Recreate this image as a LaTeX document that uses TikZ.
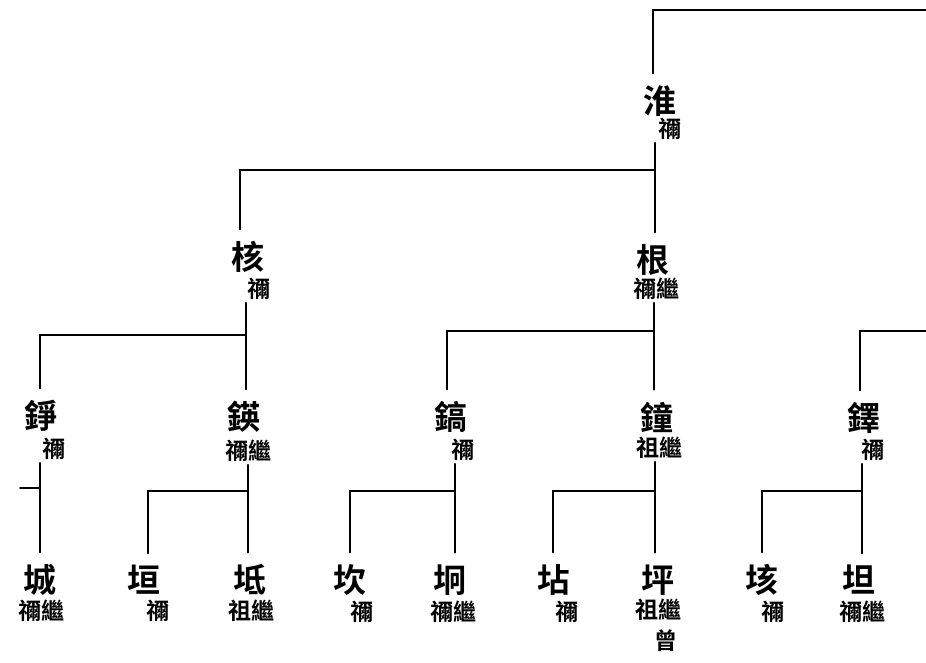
\documentclass[tikz,border=0pt]{standalone}
\usepackage{fontspec}
\newfontfamily\cjk{Noto Sans CJK TC}[BoldFont={Noto Sans CJK TC Bold}]
\tikzset{
  big/.style={font=\cjk\bfseries\fontsize{33}{33}\selectfont, inner sep=0pt, outer ysep=12pt},
  lab/.style={font=\cjk\bfseries\fontsize{23}{23}\selectfont, inner sep=0pt, outer ysep=3pt},
  link/.style={line width=1.7pt, line cap=round}
}
\begin{document}
\begin{tikzpicture}[x=1pt,y=-1pt]
\useasboundingbox (0,0) rectangle (926,662);
% level 0
\node[big] (huai) at (660,101) {淮};
\node[lab] (huaiL) at (670,129) {禰};
% level 1
\node[big] (he) at (248,257) {核};
\node[lab] (heL) at (259,289) {禰};
\node[big] (gen) at (653,260) {根};
\node[lab] (genL) at (656,289) {禰繼};
% level 2
\node[big] (zheng) at (41,416) {錚};
\node[lab] (zhengL) at (54,449) {禰};
\node[big] (ying) at (244,417) {鍈};
\node[lab] (yingL) at (248,451) {禰繼};
\node[big] (gao) at (451,417) {鎬};
\node[lab] (gaoL) at (463,450) {禰};
\node[big] (zhong) at (657,417) {鐘};
\node[lab] (zhongL) at (659,448) {祖繼};
\node[big] (duo) at (864,418) {鐸};
\node[lab] (duoL) at (873,450) {禰};
% level 3
\node[big] (cheng) at (40,580) {城};
\node[lab] (chengL) at (41,611) {禰繼};
\node[big] (yuan) at (144,580) {垣};
\node[lab] (yuanL) at (158,611) {禰};
\node[big] (di) at (250,580) {坻};
\node[lab] (diL) at (251,611) {祖繼};
\node[big] (kan) at (350,580) {坎};
\node[lab] (kanL) at (362,612) {禰};
\node[big] (jiong) at (450,580) {坰};
\node[lab] (jiongL) at (453,612) {禰繼};
\node[big] (dian) at (554,580) {坫};
\node[lab] (dianL) at (567,612) {禰};
\node[big] (ping) at (658,580) {坪};
\node[lab] (pingL) at (658,610) {祖繼};
\node[lab] (pingL2) at (666,641) {曾};
\node[big] (gai) at (762,580) {垓};
\node[lab] (gaiL) at (773,612) {禰};
\node[big] (tan) at (859,580) {坦};
\node[lab] (tanL) at (862,612) {禰繼};
% junctions
\coordinate (e0) at (926,10);
\coordinate (j0) at (653,10);
\coordinate (j1) at (655,170);
\coordinate (j1L) at (240,170);
\coordinate (j2) at (246,335);
\coordinate (j2L) at (40,335);
\coordinate (j3) at (654,331);
\coordinate (j3L) at (447,331);
\coordinate (e3) at (926,331);
\coordinate (j4) at (860,331);
\coordinate (s1) at (20,488);
\coordinate (s1R) at (40,488);
\coordinate (j5) at (248,491);
\coordinate (j5L) at (148,491);
\coordinate (j6) at (455,491);
\coordinate (j6L) at (350,491);
\coordinate (j7) at (655,491);
\coordinate (j7L) at (553,491);
\coordinate (j8) at (862,491);
\coordinate (j8L) at (762,491);
% connectors
\draw[link] (e0) -- (j0) -- (j0 |- huai.north);
\draw[link] (j1 |- huaiL.south) -- (j1);
\draw[link] (j1L |- he.north) -- (j1L) -- (j1) -- (j1 |- gen.north);
\draw[link] (j2 |- heL.south) -- (j2);
\draw[link] (j2L |- zheng.north) -- (j2L) -- (j2) -- (j2 |- ying.north);
\draw[link] (j3 |- genL.south) -- (j3);
\draw[link] (j3L |- gao.north) -- (j3L) -- (j3) -- (j3 |- zhong.north);
\draw[link] (e3) -- (j4) -- (j4 |- duo.north);
\draw[link] (s1R |- zhengL.south) -- (s1R |- cheng.north);
\draw[link] (s1) -- (s1R);
\draw[link] (j5 |- yingL.south) -- (j5);
\draw[link] (j5L |- yuan.north) -- (j5L) -- (j5) -- (j5 |- di.north);
\draw[link] (j6 |- gaoL.south) -- (j6);
\draw[link] (j6L |- kan.north) -- (j6L) -- (j6) -- (j6 |- jiong.north);
\draw[link] (j7 |- zhongL.south) -- (j7);
\draw[link] (j7L |- dian.north) -- (j7L) -- (j7) -- (j7 |- ping.north);
\draw[link] (j8 |- duoL.south) -- (j8);
\draw[link] (j8L |- gai.north) -- (j8L) -- (j8) -- (j8 |- tan.north);
\end{tikzpicture}
\end{document}
